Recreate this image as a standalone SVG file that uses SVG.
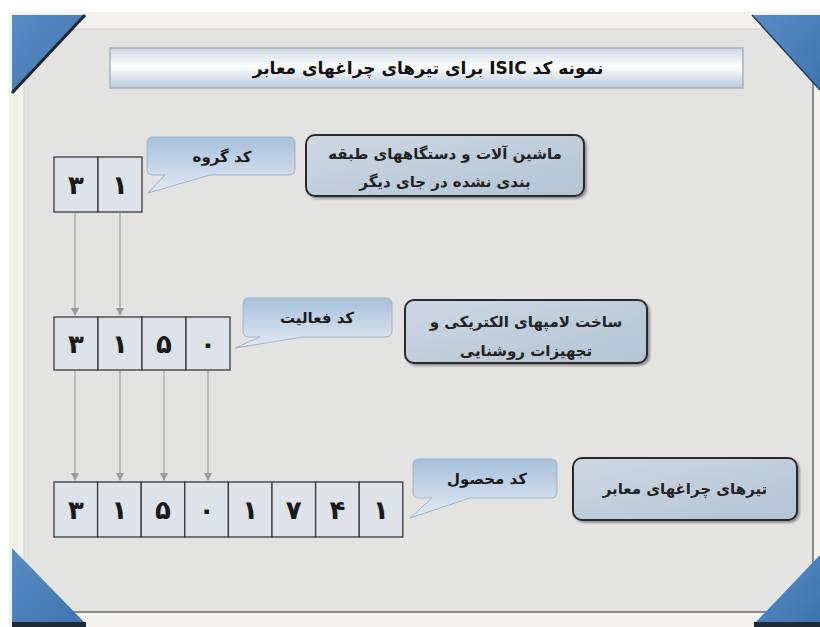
<svg xmlns="http://www.w3.org/2000/svg" width="820" height="627" viewBox="0 0 820 627">
<defs>
<linearGradient id="gTitle" x1="0" y1="0" x2="0" y2="1">
<stop offset="0" stop-color="#c9d6e3"/><stop offset="0.45" stop-color="#ffffff"/><stop offset="1" stop-color="#b9c9d9"/>
</linearGradient>
<linearGradient id="gCall" x1="0" y1="0" x2="0" y2="1">
<stop offset="0" stop-color="#a7c0dc"/><stop offset="1" stop-color="#e3eaf1"/>
</linearGradient>
<linearGradient id="gDesc" x1="0" y1="0" x2="1" y2="1">
<stop offset="0" stop-color="#cdd8e3"/><stop offset="1" stop-color="#b3c4d5"/>
</linearGradient>
<linearGradient id="gTri" x1="0" y1="0" x2="1" y2="1">
<stop offset="0" stop-color="#5a8cc4"/><stop offset="1" stop-color="#3e74ae"/>
</linearGradient>
<marker id="arr" markerWidth="8" markerHeight="8" refX="7" refY="4" orient="auto" markerUnits="userSpaceOnUse" viewBox="0 0 8 8">
<path d="M0,0 L8,4 L0,8 Z" fill="#9a9a9a"/>
</marker>
<filter id="sh" x="-10%" y="-10%" width="130%" height="130%">
<feDropShadow dx="2" dy="2" stdDeviation="1.2" flood-color="#000" flood-opacity="0.35"/>
</filter>
</defs>
<style>
.cell{fill:#dde3e9;stroke:#3a3a3a;stroke-width:1.3}
.dig{font-family:"DejaVu Sans",sans-serif;font-weight:bold;font-size:26px;fill:#1a1a1a;text-anchor:middle}
.call{fill:url(#gCall);stroke:#9fb3c8;stroke-width:1}
.ctxt{font-family:"DejaVu Sans",sans-serif;font-weight:bold;font-size:15px;fill:#1a1a1a;text-anchor:middle;direction:rtl}
.desc{fill:url(#gDesc);stroke:#2b2b2b;stroke-width:2;filter:url(#sh)}
.dtxt{font-family:"DejaVu Sans",sans-serif;font-weight:bold;font-size:15px;fill:#222;text-anchor:middle;direction:rtl}
.conn{stroke:#a0a0a0;stroke-width:1.2;fill:none;marker-end:url(#arr)}
.tri{fill:url(#gTri)}
</style>
<rect width="820" height="627" fill="#ffffff"/>
<rect x="9" y="12" width="811" height="615" fill="#f2f1ec"/>
<rect x="24" y="29" width="789" height="583" fill="#e3e3e1" stroke="#d0d0ce" stroke-width="1"/>
<line x1="24" y1="612" x2="813" y2="612" stroke="#8a8a88" stroke-width="2"/>
<line x1="813" y1="29" x2="813" y2="612" stroke="#8a8a88" stroke-width="2"/>
<g id="corners">
<polygon class="tri" points="12,15 85,15 12,93"/>
<line x1="85" y1="15" x2="12" y2="93" stroke="#1b2733" stroke-width="3"/>
<polygon class="tri" points="752,15 820,15 820,90"/>
<line x1="752" y1="15" x2="820" y2="90" stroke="#2a3b4d" stroke-width="1.5"/>
<polygon class="tri" points="12,548 12,623 85,623"/>
<polygon class="tri" points="820,555 820,623 755,623"/>
<rect x="12" y="622" width="74" height="5" fill="#1e2a36"/>
<rect x="754" y="622" width="66" height="5" fill="#1e2a36"/>
</g>
<g id="title">
<rect x="110" y="48" width="633" height="40" fill="url(#gTitle)" stroke="#a9b2bb" stroke-width="1.5"/>
<text x="428" y="74" font-family="DejaVu Sans, sans-serif" font-weight="bold" font-size="17" fill="#111" text-anchor="middle" direction="rtl">نمونه کد ISIC برای تیرهای چراغهای معابر</text>
</g>
<g id="connectors">
<line class="conn" x1="75" y1="213" x2="75" y2="315"/>
<line class="conn" x1="120" y1="213" x2="120" y2="315"/>
<line class="conn" x1="75" y1="371" x2="75" y2="480"/>
<line class="conn" x1="120" y1="371" x2="120" y2="480"/>
<line class="conn" x1="164" y1="371" x2="164" y2="480"/>
<line class="conn" x1="208" y1="371" x2="208" y2="480"/>
</g>
<g id="code-group">
<rect class="cell" x="54" y="157" width="44" height="55"/>
<rect class="cell" x="98" y="157" width="44" height="55"/>
<text class="dig" x="76" y="194">۳</text>
<text class="dig" x="120" y="194">۱</text>
</g>
<g id="callout-group">
<path class="call" d="M153,137 H289 Q295,137 295,143 V169 Q295,175 289,175 H210 L148,193 L165,175 H153 Q147,175 147,169 V143 Q147,137 153,137 Z"/>
<text class="ctxt" x="222" y="162">کد گروه</text>
</g>
<g id="desc-group">
<rect class="desc" x="306" y="135" width="278" height="61" rx="9"/>
<text class="dtxt" x="445" y="159">ماشین آلات و دستگاههای طبقه</text>
<text class="dtxt" x="445" y="187">بندی نشده در جای دیگر</text>
</g>
<g id="code-activity">
<rect class="cell" x="54" y="317" width="44" height="53"/>
<rect class="cell" x="98" y="317" width="44" height="53"/>
<rect class="cell" x="142" y="317" width="44" height="53"/>
<rect class="cell" x="186" y="317" width="44" height="53"/>
<text class="dig" x="76" y="353">۳</text>
<text class="dig" x="120" y="353">۱</text>
<text class="dig" x="164" y="353">۵</text>
<text class="dig" x="208" y="353">۰</text>
</g>
<g id="callout-activity">
<path class="call" d="M249,298 H386 Q392,298 392,304 V331 Q392,337 386,337 H303 L235,348 L260,337 H249 Q243,337 243,331 V304 Q243,298 249,298 Z"/>
<text class="ctxt" x="317" y="323">کد فعالیت</text>
</g>
<g id="desc-activity">
<rect class="desc" x="405" y="300" width="242" height="63" rx="9"/>
<text class="dtxt" x="526" y="327">ساخت لامپهای الکتریکی و</text>
<text class="dtxt" x="526" y="356">تجهیزات روشنایی</text>
</g>
<g id="code-product">
<rect class="cell" x="54" y="482" width="43.6" height="55"/>
<rect class="cell" x="97.6" y="482" width="43.6" height="55"/>
<rect class="cell" x="141.2" y="482" width="43.6" height="55"/>
<rect class="cell" x="184.8" y="482" width="43.6" height="55"/>
<rect class="cell" x="228.4" y="482" width="43.6" height="55"/>
<rect class="cell" x="272" y="482" width="43.6" height="55"/>
<rect class="cell" x="315.6" y="482" width="43.6" height="55"/>
<rect class="cell" x="359.2" y="482" width="43.6" height="55"/>
<text class="dig" x="76" y="519">۳</text>
<text class="dig" x="119.4" y="519">۱</text>
<text class="dig" x="163" y="519">۵</text>
<text class="dig" x="206.6" y="519">۰</text>
<text class="dig" x="250.2" y="519">۱</text>
<text class="dig" x="293.8" y="519">۷</text>
<text class="dig" x="337.4" y="519">۴</text>
<text class="dig" x="381" y="519">۱</text>
</g>
<g id="callout-product">
<path class="call" d="M419,459 H551 Q557,459 557,465 V492 Q557,498 551,498 H470 L410,518 L432,498 H419 Q413,498 413,492 V465 Q413,459 419,459 Z"/>
<text class="ctxt" x="487" y="484">کد محصول</text>
</g>
<g id="desc-product">
<rect class="desc" x="573" y="458" width="224" height="62" rx="9"/>
<text class="dtxt" x="685" y="494">تیرهای چراغهای معابر</text>
</g>
</svg>
